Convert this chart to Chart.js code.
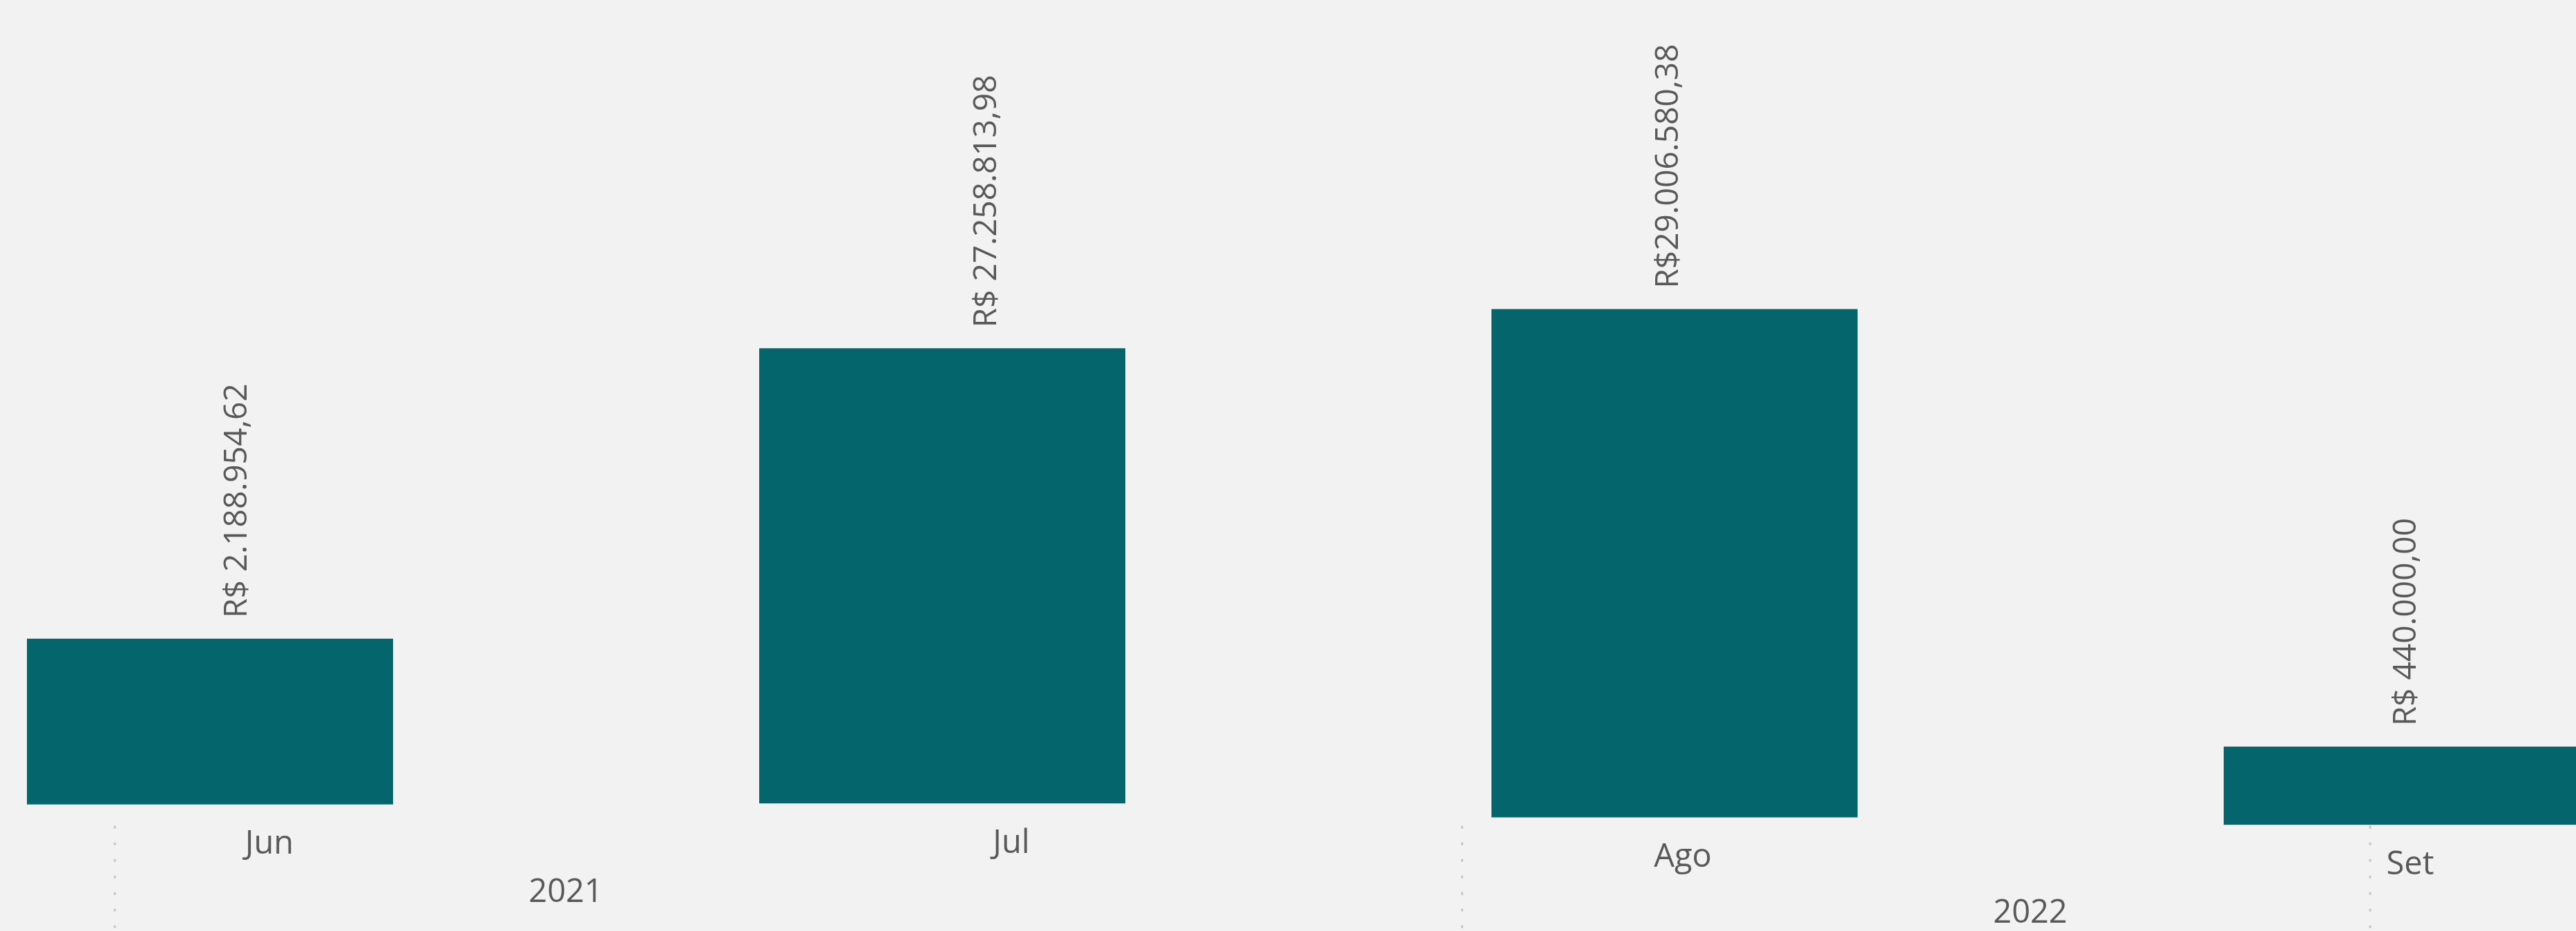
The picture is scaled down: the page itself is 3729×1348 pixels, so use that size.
<!DOCTYPE html>
<html>
<head>
<meta charset="utf-8">
<script src="https://cdn.jsdelivr.net/npm/chart.js"></script>
<style>
html, body { margin: 0; padding: 0; background: #f2f2f2; overflow: hidden; width: 3729px; height: 1348px; }
#wrap { position: absolute; left: -226px; top: 0; width: 4240px; height: 1348px; }
</style>
</head>
<body>
<div id="wrap"><canvas id="chart" width="4240" height="1348"></canvas></div>
<script>
const months = ['Jun', 'Jul', 'Ago', 'Set'];
const monthYear = [0, 0, 1, 1];
const years = ['2021', '2022'];
const amountLabels = ['R$ 2.188.954,62', 'R$ 27.258.813,98', 'R$29.006.580,38', 'R$ 440.000,00'];
// bar extents as they appear in the picture (percent of height, from the bottom)
const barBottom = [13.6, 13.7, 12.2, 11.4];
const barTop = [31.4, 62.6, 66.8, 19.8];
// dotted group separators, in category units
const separatorsAt = [-0.13, 1.71, 2.95];

const textColor = '#595959';
// small horizontal nudges of the labels (px)
const valueNudge = [40, 65, -8, 0];
const monthNudge = [86, 100, 12, 5];

const labelPlugin = {
    id: 'labelPlugin',
    afterDatasetsDraw(chart) {
        const ctx = chart.ctx;
        const bars = chart.getDatasetMeta(0).data;
        const xScale = chart.scales.x;
        const yScale = chart.scales.y;

        ctx.save();

        // dotted separators
        ctx.strokeStyle = '#c6c6c6';
        ctx.lineWidth = 3;
        ctx.setLineDash([4, 20]);
        separatorsAt.forEach(v => {
            const px = xScale.getPixelForValue(v);
            ctx.beginPath();
            ctx.moveTo(px, yScale.getPixelForValue(11.3));
            ctx.lineTo(px, chart.chartArea.bottom);
            ctx.stroke();
        });
        ctx.setLineDash([]);

        ctx.fillStyle = textColor;

        // vertical value labels
        ctx.font = '46px "Open Sans"';
        bars.forEach((bar, i) => {
            ctx.save();
            ctx.translate(bar.x + valueNudge[i], bar.y - 30);
            ctx.rotate(-Math.PI / 2);
            ctx.textAlign = 'left';
            ctx.textBaseline = 'middle';
            ctx.fillText(amountLabels[i], 0, 0);
            ctx.restore();
        });

        // month labels
        ctx.font = '47px "Open Sans"';
        ctx.textAlign = 'center';
        ctx.textBaseline = 'middle';
        bars.forEach((bar, i) => {
            ctx.fillText(months[i], bar.x + monthNudge[i], bar.base + 58);
        });

        // year labels
        years.forEach((yr, k) => {
            var xs = [];
            var base = 0;
            bars.forEach((bar, i) => {
                if (monthYear[i] === k) {
                    xs.push(bar.x);
                    base = Math.max(base, bar.base);
                }
            });
            const cx = xs.reduce((a, b) => a + b, 0) / xs.length;
            ctx.fillText(yr, cx - 15, base + 128);
        });

        ctx.restore();
    }
};

new Chart(document.getElementById('chart'), {
    type: 'bar',
    data: {
        labels: months,
        datasets: [{
            data: months.map((m, i) => [barBottom[i], barTop[i]]),
            backgroundColor: '#05656c',
            borderWidth: 0,
            categoryPercentage: 1.0,
            barPercentage: 0.5
        }]
    },
    options: {
        responsive: false,
        animation: false,
        layout: { padding: 0 },
        plugins: {
            legend: { display: false },
            tooltip: { enabled: false }
        },
        scales: {
            x: { display: false },
            y: { display: false, min: 0, max: 100 }
        }
    },
    plugins: [labelPlugin]
});
</script>
</body>
</html>
